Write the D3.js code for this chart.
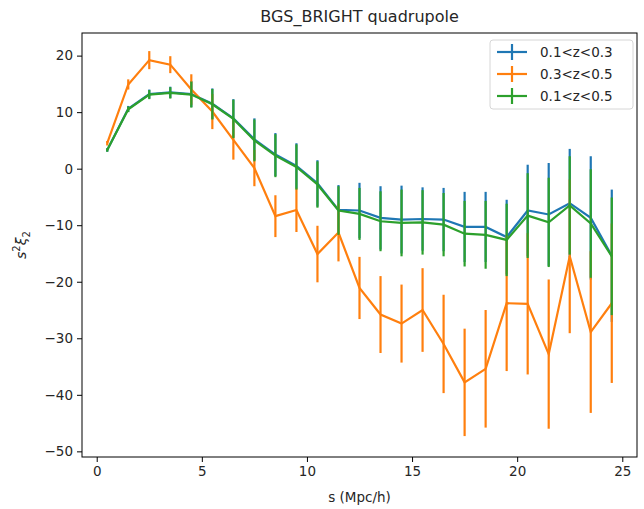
<!DOCTYPE html>
<html>
<head>
<meta charset="utf-8">
<script src="https://cdn.jsdelivr.net/npm/d3@7"></script>
<style>
  body { margin: 0; background: #fff; }
  text { font-family: "DejaVu Sans", sans-serif; fill: #262626; }
</style>
</head>
<body>
<script>
// separation bins (Mpc/h)
const sBins = [0.5, 1.5, 2.5, 3.5, 4.5, 5.5, 6.5, 7.5, 8.5, 9.5, 10.5, 11.5, 12.5,
  13.5, 14.5, 15.5, 16.5, 17.5, 18.5, 19.5, 20.5, 21.5, 22.5, 23.5, 24.5];

// s^2 xi_2 per redshift bin
const lowZ = [3.3, 10.6, 13.2, 13.5, 13.2, 11.5, 8.9, 5.2, 2.5, 0.5, -2.6, -7.3, -7.4,
  -8.7, -9.0, -8.9, -9.0, -10.3, -10.3, -12.1, -7.4, -8.1, -6.1, -8.7, -15.4];
const lowZErr = [0.3, 0.5, 0.8, 1.0, 2.3, 2.7, 3.4, 3.7, 3.8, 4.0, 4.1, 4.4, 4.9,
  5.6, 6.0, 5.6, 5.6, 6.2, 6.2, 6.6, 8.1, 9.1, 9.6, 10.9, 11.7];

const highZ = [4.5, 14.9, 19.2, 18.4, 14.0, 10.1, 5.1, 0.1, -8.4, -7.3, -15.1, -11.3, -21.1,
  -25.8, -27.4, -25.0, -31.0, -37.8, -35.4, -23.8, -23.9, -32.8, -15.5, -28.9, -23.8];
const highZErr = [0.4, 0.9, 1.6, 1.5, 2.7, 3.1, 3.5, 3.2, 3.7, 3.9, 5.0, 5.1, 5.5,
  6.8, 6.9, 7.4, 8.7, 9.5, 10.4, 12.0, 12.5, 13.2, 13.6, 14.3, 14.1];

const allZ = [3.3, 10.5, 13.1, 13.4, 13.1, 11.4, 8.8, 5.0, 2.3, 0.3, -2.8, -7.4, -8.0,
  -9.3, -9.6, -9.5, -9.9, -11.5, -11.7, -12.6, -8.3, -9.5, -6.5, -9.7, -15.5];
const allZErr = [0.3, 0.5, 0.8, 1.0, 2.3, 2.7, 3.4, 3.7, 3.8, 4.0, 4.1, 4.3, 4.6,
  5.3, 5.9, 5.7, 5.6, 5.8, 6.0, 6.4, 7.5, 7.9, 8.7, 9.6, 10.4];

const seriesNames = ['0.1<z<0.3', '0.3<z<0.5', '0.1<z<0.5'];
const xTicks = [0, 5, 10, 15, 20, 25];
const yTicks = [20, 10, 0, -10, -20, -30, -40, -50];

const series = [
  { name: seriesNames[0], y: lowZ, err: lowZErr, color: '#1f77b4' },
  { name: seriesNames[1], y: highZ, err: highZErr, color: '#ff7f0e' },
  { name: seriesNames[2], y: allZ, err: allZErr, color: '#2ca02c' }
];

const width = 644, height = 509;
const margin = { top: 33, right: 7, bottom: 52, left: 82 };

const svg = d3.select('body')
  .append('svg')
  .attr('width', width)
  .attr('height', height);

const x = d3.scaleLinear()
  .domain([-0.7, 25.7])
  .range([margin.left, width - margin.right]);

const y = d3.scaleLinear()
  .domain([-51, 24])
  .range([height - margin.bottom, margin.top]);

// axes
const xAxis = svg.append('g')
  .attr('transform', `translate(0, ${height - margin.bottom})`)
  .call(d3.axisBottom(x).tickValues(xTicks).tickSize(5).tickPadding(4));

const yAxis = svg.append('g')
  .attr('transform', `translate(${margin.left}, 0)`)
  .call(d3.axisLeft(y).tickValues(yTicks).tickSize(5).tickPadding(4)
    .tickFormat(d => d < 0 ? '\u2212' + Math.abs(d) : d));

[xAxis, yAxis].forEach(g => {
  g.select('.domain').remove();
  g.selectAll('.tick line').attr('stroke', '#000').attr('stroke-width', 1);
  g.selectAll('.tick text').style('font-size', '13.5px').style('font-family', '"DejaVu Sans", sans-serif');
});

// data
const line = d3.line()
  .x((d, i) => x(sBins[i]))
  .y(d => y(d));

series.forEach(s => {
  const g = svg.append('g');
  g.append('path')
    .datum(s.y)
    .attr('d', line)
    .attr('fill', 'none')
    .attr('stroke', s.color)
    .attr('stroke-width', 2.2);

  g.selectAll('line')
    .data(s.y)
    .enter()
    .append('line')
    .attr('x1', (d, i) => x(sBins[i]))
    .attr('x2', (d, i) => x(sBins[i]))
    .attr('y1', (d, i) => y(d - s.err[i]))
    .attr('y2', (d, i) => y(d + s.err[i]))
    .attr('stroke', s.color)
    .attr('stroke-width', 2.2);
});

// frame
svg.append('rect')
  .attr('x', margin.left)
  .attr('y', margin.top)
  .attr('width', width - margin.left - margin.right)
  .attr('height', height - margin.top - margin.bottom)
  .attr('fill', 'none')
  .attr('stroke', '#000')
  .attr('stroke-width', 1);

// title and labels
svg.append('text')
  .attr('x', (margin.left + width - margin.right) / 2)
  .attr('y', 22)
  .attr('text-anchor', 'middle')
  .style('font-size', '16px')
  .text('BGS_BRIGHT quadrupole');

svg.append('text')
  .attr('x', (margin.left + width - margin.right) / 2)
  .attr('y', 502)
  .attr('text-anchor', 'middle')
  .style('font-size', '13.5px')
  .text('s (Mpc/h)');

const yl = svg.append('text')
  .attr('transform', `translate(26, ${(margin.top + height - margin.bottom) / 2}) rotate(-90)`)
  .attr('text-anchor', 'middle')
  .style('font-size', '14px')
  .style('font-style', 'italic');
yl.append('tspan').text('s');
yl.append('tspan').attr('dy', -6).style('font-size', '10px').style('font-style', 'normal').text('2');
yl.append('tspan').attr('dy', 6).text('\u03be');
yl.append('tspan').attr('dy', 4).style('font-size', '10px').style('font-style', 'normal').text('2');

// legend
const legend = svg.append('g').attr('transform', 'translate(490, 40)');
legend.append('rect')
  .attr('width', 143)
  .attr('height', 69)
  .attr('rx', 3)
  .attr('fill', '#fff')
  .attr('fill-opacity', 0.8)
  .attr('stroke', '#d6d6d6');

series.forEach((s, i) => {
  const row = legend.append('g').attr('transform', `translate(0, ${12 + i * 22})`);
  row.append('line')
    .attr('x1', 7).attr('x2', 37).attr('y1', 0).attr('y2', 0)
    .attr('stroke', s.color).attr('stroke-width', 2.2);
  row.append('line')
    .attr('x1', 22).attr('x2', 22).attr('y1', -8).attr('y2', 8)
    .attr('stroke', s.color).attr('stroke-width', 2.2);
  row.append('text')
    .attr('x', 50)
    .attr('y', 5)
    .style('font-size', '13.5px')
    .text(s.name);
});
</script>
</body>
</html>
